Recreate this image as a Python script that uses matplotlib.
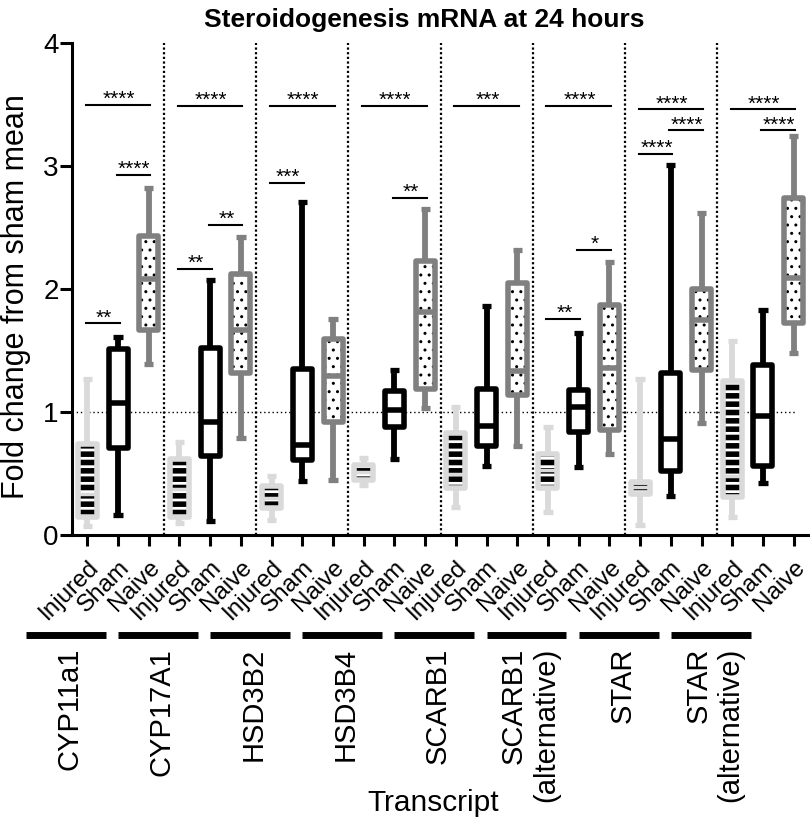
import numpy as np
import matplotlib.pyplot as plt
from matplotlib.patches import PathPatch
from matplotlib.transforms import blended_transform_factory, ScaledTranslation

plt.rcParams['font.family'] = ['Liberation Sans', 'DejaVu Sans']

transcripts = ['CYP11a1', 'CYP17A1', 'HSD3B2', 'HSD3B4', 'SCARB1',
               'SCARB1\n(alternative)', 'STAR', 'STAR\n(alternative)']
groups = ['Injured', 'Sham', 'Naive']

# box stats per transcript, order: injured, sham, naive
whis_lo = [[0.07, 0.16, 1.39], [0.10, 0.11, 0.79], [0.12, 0.44, 0.45], [0.41, 0.62, 1.03],
           [0.23, 0.56, 0.72], [0.19, 0.55, 0.66], [0.08, 0.32, 0.91], [0.15, 0.42, 1.48]]
q1 = [[0.15, 0.71, 1.67], [0.15, 0.64, 1.32], [0.22, 0.61, 0.92], [0.45, 0.88, 1.19],
      [0.38, 0.72, 1.14], [0.38, 0.84, 0.85], [0.33, 0.52, 1.34], [0.31, 0.56, 1.72]]
med = [[0.33, 1.07, 2.08], [0.37, 0.92, 1.67], [0.30, 0.73, 1.29], [0.51, 1.02, 1.81],
       [0.50, 0.89, 1.33], [0.53, 1.04, 1.36], [0.39, 0.78, 1.75], [0.48, 0.97, 2.09]]
q3 = [[0.74, 1.51, 2.43], [0.62, 1.52, 2.12], [0.40, 1.35, 1.59], [0.57, 1.17, 2.23],
      [0.83, 1.19, 2.05], [0.66, 1.18, 1.87], [0.43, 1.32, 2.00], [1.25, 1.38, 2.74]]
whis_hi = [[1.27, 1.61, 2.82], [0.76, 2.07, 2.42], [0.48, 2.71, 1.76], [0.63, 1.34, 2.65],
           [1.04, 1.86, 2.32], [0.88, 1.64, 2.22], [1.27, 3.01, 2.62], [1.58, 1.83, 3.24]]

# significance brackets (box index pairs), heights and labels
sig_pairs = [(0, 2), (1, 2), (0, 1), (3, 5), (3, 4), (4, 5), (6, 8), (6, 7), (9, 11), (10, 11),
             (12, 14), (15, 17), (15, 16), (16, 17), (18, 20), (19, 20), (18, 19), (21, 23), (22, 23)]
sig_y = [3.50, 2.93, 1.72, 3.49, 2.16, 2.52, 3.49, 2.86, 3.49, 2.74,
         3.49, 3.49, 1.76, 2.32, 3.46, 3.29, 3.10, 3.46, 3.29]
sig_text = ['****', '****', '**', '****', '**', '**', '****', '***', '****', '**',
            '***', '****', '**', '*', '****', '****', '****', '****', '****']

colors = ['#dadada', 'black', '#808080']
hatches = ['--', None, '..']
hatch_lw = [4.0, 0, 1.0]

fig = plt.figure(figsize=(8.1, 8.18), dpi=100)
ax = fig.add_axes([72/810, 1 - 535/818, 737/810, 492/818])

stats = []
for g in range(len(transcripts)):
    for k in range(3):
        stats.append(dict(whislo=whis_lo[g][k], q1=q1[g][k], med=med[g][k],
                          q3=q3[g][k], whishi=whis_hi[g][k], fliers=[]))

res = ax.bxp(stats, positions=np.arange(len(stats)), widths=0.62, capwidths=0.3,
             patch_artist=True, showfliers=False,
             boxprops=dict(linewidth=4, joinstyle='round', facecolor='white', zorder=3),
             whiskerprops=dict(linewidth=4.2, solid_capstyle='butt', zorder=2),
             capprops=dict(linewidth=3.8, solid_capstyle='butt', zorder=2),
             medianprops=dict(linewidth=4, solid_capstyle='butt', zorder=3.5))

for i, box in enumerate(res['boxes']):
    k = i % 3
    c = colors[k]
    box.set_edgecolor(c)
    res['medians'][i].set_color(c)
    for art in res['whiskers'][2*i:2*i+2] + res['caps'][2*i:2*i+2]:
        art.set_color(c)
    if hatches[k]:
        box.set_facecolor('none')
        with plt.rc_context({'hatch.linewidth': hatch_lw[k]}):
            p = PathPatch(box.get_path(), facecolor='white', edgecolor='black',
                          linewidth=0, hatch=hatches[k], zorder=2.5)
        if hasattr(p, 'set_hatch_linewidth'):
            p.set_hatch_linewidth(hatch_lw[k])
        ax.add_patch(p)
    if k == 0:
        res['medians'][i].set_linewidth(2.5)

# group separators and reference line
for g in range(1, len(transcripts)):
    ax.axvline(3*g - 0.5, color='black', lw=1.6, ls=(0, (1, 1.1)), zorder=1)
ax.hlines(1, -0.5, 23.1, color='black', lw=1, ls=(0, (1, 2)), zorder=1)

for (i, j), y, t in zip(sig_pairs, sig_y, sig_text):
    ax.plot([i - 0.05, j + 0.05], [y, y], color='black', lw=1.5, clip_on=False)
    ax.annotate(t, xy=((i + j)/2 + 0.03, y), xytext=(0, 0), textcoords='offset points',
                ha='center', va='baseline', fontsize=15)

ax.set_xlim(-0.5, 23.5)
ax.set_ylim(0, 4)
ax.set_yticks([0, 1, 2, 3, 4])
ax.set_yticklabels(['0', '1', '2', '3', '4'])
ax.set_xticks(np.arange(24))
ax.set_xticklabels(groups*len(transcripts), rotation=45, ha='right',
                   rotation_mode='anchor', fontsize=17.5)
shift = ScaledTranslation(-0.04, 0, fig.dpi_scale_trans)
for lab in ax.get_xticklabels():
    lab.set_transform(lab.get_transform() + shift)
for s in ['top', 'right']:
    ax.spines[s].set_visible(False)
for s in ['left', 'bottom']:
    ax.spines[s].set_linewidth(2.2)
ax.tick_params(axis='y', width=2.2, length=8.5, labelsize=20, pad=1)
ax.tick_params(axis='x', width=2.2, length=8, pad=7.5)

# transcript labels under the tick labels
trans = blended_transform_factory(ax.transData, fig.transFigure)
for g, name in enumerate(transcripts):
    c = 3*g + 1 - 1.7
    ax.plot([c - 1.3, c + 1.3], [0.2237, 0.2237], transform=trans, color='black',
            lw=5, solid_capstyle='butt', clip_on=False)
    ax.text(c + 0.12, 0.2078, name, transform=trans, rotation=90, ha='center', va='top',
            multialignment='right', fontsize=21)

fig.text(0.535, 0.0086, 'Transcript', ha='center', va='baseline', fontsize=21.5)
fig.text(0.02, 0.637, 'Fold change from sham mean', rotation=90, ha='center',
         va='center', fontsize=22)
fig.text(0.524, 0.967, 'Steroidogenesis mRNA at 24 hours', ha='center', va='baseline',
         fontsize=19, fontweight='bold')

fig.savefig('out.png', dpi=100)
